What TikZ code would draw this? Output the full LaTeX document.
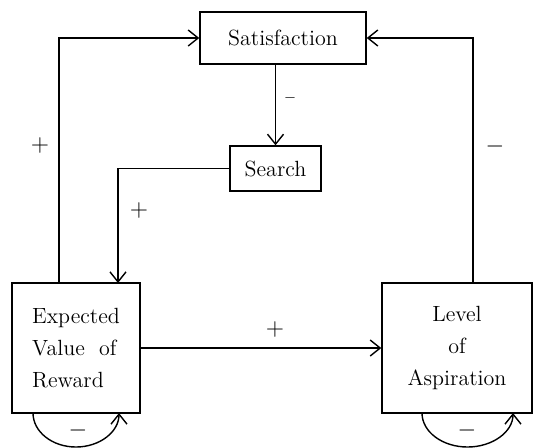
\documentclass[tikz,border=0pt]{standalone}
\usepackage{amsmath}
\usepackage{tikz}
\usetikzlibrary{arrows.meta}
\usetikzlibrary{calc}

\tikzset{
  box/.style={draw, line width=0.7pt, font=\fontsize{11}{14}\selectfont, inner sep=0pt},
  link/.style={line width=0.7pt, -{Straight Barb[length=5pt,width=8pt]}},
  sign/.style={font=\large}
}

\begin{document}
\begin{tikzpicture}[x=0.5pt, y=0.5pt]
  \useasboundingbox (0,0) rectangle (534,447);

  \node[box, minimum width=83pt, minimum height=26pt] (sat) at (283,409) {Satisfaction};
  \node[box, minimum width=45.5pt, minimum height=22.5pt] (search) at (275.5,278.5) {Search};
  \node[box, minimum width=64pt, minimum height=65pt, align=left] (exp) at (76,99)
    {Expected\\[2pt]Value\ \ of\\[2pt]Reward};
  \node[box, minimum width=75pt, minimum height=65pt, align=center] (lev) at (457,99)
    {Level\\[2pt]of\\[2pt]Aspiration};

  \coordinate (expout) at (59,164);
  \coordinate (expin) at (118,164);
  \coordinate (levout) at (473,164);

  \draw[link] (expout) |- (sat.west);
  \draw[link] (levout) |- (sat.east);
  \draw[link] (sat.south -| search.north) -- (search.north);
  \draw[link] (search.west) -| (expin);
  \draw[link] (exp.east) -- (lev.west);

  \draw[link] (33,34) arc[start angle=180, end angle=360, x radius=21.5pt, y radius=17pt];
  \draw[link] (422,34) arc[start angle=180, end angle=360, x radius=22.75pt, y radius=17pt];

  \node[sign] (p1) at (40,302) {$+$};
  \node[sign] (p2) at (139,237) {$+$};
  \node[sign] (p3) at (275,118) {$+$};
  \node[sign, font=\scriptsize] (m1) at (290,349) {$-$};
  \node[sign] (m2) at (495,301) {$-$};
  \node[sign] (m3) at (78,17) {$-$};
  \node[sign] (m4) at (467,17) {$-$};
\end{tikzpicture}
\end{document}
